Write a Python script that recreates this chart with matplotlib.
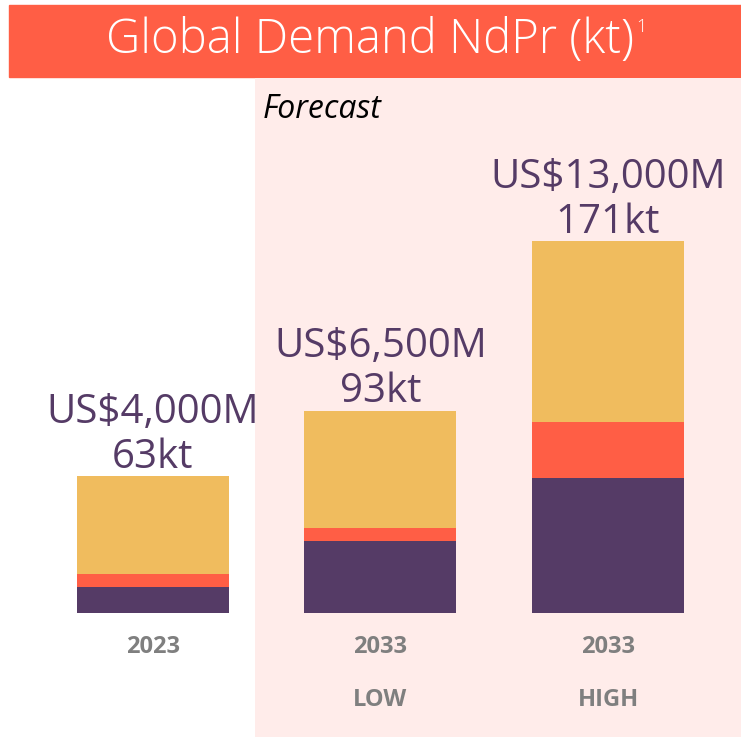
import matplotlib.pyplot as plt
from matplotlib.patches import Rectangle

# NdPr demand split (kt)
years = ["2023", "2033", "2033"]
scenarios = ["", "LOW", "HIGH"]
bottom_kt = [12, 33, 62]   # purple
middle_kt = [6, 6, 26]     # red
top_kt = [45, 54, 83]      # yellow
totals_kt = [63, 93, 171]
value_labels = ["US$4,000M", "US$6,500M", "US$13,000M"]

PURPLE = "#553B66"
RED = "#FF5E45"
YELLOW = "#F0BC5E"
PINK = "#FFECEA"
GREY = "#7F7F7F"

plt.rcParams["font.family"] = ["Open Sans", "DejaVu Sans"]

fig = plt.figure(figsize=(7.41, 7.37), dpi=100)

# title banner (behind the axes so the footnote mark stays visible)
fig.patches.append(Rectangle((9 / 741, 1 - 77 / 737), 732 / 741, 72 / 737,
                             transform=fig.transFigure, color=RED, zorder=-1))
title = fig.text(0.500, 1 - 41 / 737, "Global Demand NdPr (kt)", color="white",
                 fontsize=34, fontweight="light", ha="center", va="center")

ax = fig.add_axes([0, 0, 1, 659 / 737])
ax.set_xlim(-0.6706, 2.5837)
ax.set_ylim(-56.9, 246.1)
ax.axis("off")

# footnote mark hugging the title
ax.annotate("1", xy=(1, 0.78), xycoords=title, xytext=(1, 0),
            textcoords="offset points", color="white", fontsize=13,
            fontweight="light", ha="left", va="center", annotation_clip=False)

# forecast shading
ax.axvspan(0.449, 2.6, color=PINK, zorder=0, lw=0)
ax.text(0.483, 231.5, "Forecast", fontsize=23, style="italic", color="black",
        ha="left", va="center")

x = range(len(years))
w = 0.667
ax.bar(x, bottom_kt, width=w, color=PURPLE, zorder=2)
ax.bar(x, middle_kt, width=w, bottom=bottom_kt, color=RED, zorder=2)
top_base = [b + m for b, m in zip(bottom_kt, middle_kt)]
ax.bar(x, top_kt, width=w, bottom=top_base, color=YELLOW, zorder=2)

for i, (tot, lab) in enumerate(zip(totals_kt, value_labels)):
    ax.annotate(f"{lab}\n{tot}kt", (i, tot), xytext=(0, -1), textcoords="offset points",
                ha="center", va="bottom", fontsize=29, color=PURPLE,
                linespacing=1.15)

for i, (yr, sc) in enumerate(zip(years, scenarios)):
    ax.text(i, -15.5, yr, ha="center", va="center", fontsize=17,
            fontweight="bold", color=GREY)
    ax.text(i, -39.8, sc, ha="center", va="center", fontsize=17,
            fontweight="bold", color=GREY)

fig.savefig("out.png", dpi=100)
